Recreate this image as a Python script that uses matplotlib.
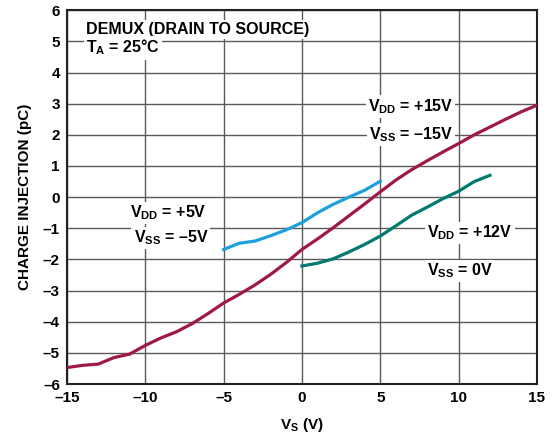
import matplotlib
matplotlib.use("Agg")
import matplotlib.pyplot as plt

plt.rcParams['font.family'] = ['Liberation Sans', 'DejaVu Sans']
plt.rcParams['font.weight'] = 'bold'
plt.rcParams['mathtext.fontset'] = 'custom'
plt.rcParams['mathtext.rm'] = 'Liberation Sans:bold'
plt.rcParams['mathtext.it'] = 'Liberation Sans:bold'
plt.rcParams['mathtext.bf'] = 'Liberation Sans:bold'

# VDD = +15V, VSS = -15V
vs_15 = [-15, -14, -13, -12, -11, -10, -9, -8, -7, -6, -5, -4, -3, -2, -1, 0, 1, 2, 3, 4, 5, 6, 7, 8, 9, 10, 11, 12, 13, 14, 15]
q_15 = [-5.47, -5.4, -5.36, -5.15, -5.04, -4.76, -4.52, -4.32, -4.06, -3.74, -3.4, -3.12, -2.82, -2.48, -2.1, -1.68, -1.34, -0.98, -0.6, -0.22, 0.17, 0.55, 0.88, 1.17, 1.45, 1.72, 2.0, 2.25, 2.5, 2.74, 2.95]

# VDD = +5V, VSS = -5V
vs_5 = [-5, -4, -3, -2, -1, 0, 1, 2, 3, 4, 5]
q_5 = [-1.68, -1.48, -1.41, -1.24, -1.05, -0.82, -0.5, -0.23, 0.0, 0.22, 0.51]

# VDD = +12V, VSS = 0V
vs_12 = [0, 1, 2, 3, 4, 5, 6, 7, 8, 9, 10, 11, 12]
q_12 = [-2.21, -2.12, -1.98, -1.76, -1.52, -1.25, -0.92, -0.58, -0.32, -0.05, 0.19, 0.5, 0.7]

xticks = [-15, -10, -5, 0, 5, 10, 15]
xticklabels = ['\u201315', '\u201310', '\u20135', '0', '5', '10', '15']
yticks = [-6, -5, -4, -3, -2, -1, 0, 1, 2, 3, 4, 5, 6]
yticklabels = ['\u20136', '\u20135', '\u20134', '\u20133', '\u20132', '\u20131', '0', '1', '2', '3', '4', '5', '6']

fig = plt.figure(figsize=(5.53, 4.44), dpi=100)
ax = fig.add_axes([0.121, 0.135, 0.850, 0.842])

ax.plot(vs_15, q_15, color='#A0174A', lw=2.3, zorder=3)
ax.plot(vs_5, q_5, color='#1BA1DD', lw=2.3, zorder=3)
ax.plot(vs_12, q_12, color='#007A6E', lw=2.3, zorder=3)

ax.set_xlim(-15, 15)
ax.set_ylim(-6, 6)
ax.set_xticks(xticks)
ax.set_xticklabels(xticklabels)
ax.set_yticks(yticks)
ax.set_yticklabels(yticklabels)
ax.tick_params(length=0, labelsize=11, pad=5)
ax.grid(True, color='#5a5a5a', lw=1.0)
ax.set_axisbelow(True)
for s in ax.spines.values():
    s.set_linewidth(1.5)
    s.set_color('#222222')

ax.set_xlabel(r'V$_{\mathrm{S}}$ (V)', fontsize=11, fontweight='bold', labelpad=8)
ax.set_ylabel('CHARGE INJECTION (pC)', fontsize=11, fontweight='bold', labelpad=8)

# Beschriftungen mit weißem Hintergrund (verdecken Gitter, nicht die Kurven)
box = dict(facecolor='white', edgecolor='none', pad=1.5)
fs = 11.5
ax.text(-13.8, 5.38, 'DEMUX (DRAIN TO SOURCE)', fontsize=fs, va='center', ha='left', bbox=box, zorder=2.5)
ax.text(-13.8, 4.8, r'T$_{\mathrm{A}}$ = 25°C', fontsize=fs, va='center', ha='left', bbox=box, zorder=2.5)
ax.text(4.2, 2.92, r'V$_{\mathrm{DD}}$ = +15V', fontsize=fs, va='center', ha='left', bbox=box, zorder=2.5)
ax.text(4.3, 2.02, 'V$_{\\mathrm{SS}}$ = \u201315V', fontsize=fs, va='center', ha='left', bbox=box, zorder=2.5)
ax.text(-10.95, -0.51, r'V$_{\mathrm{DD}}$ = +5V', fontsize=fs, va='center', ha='left', bbox=box, zorder=2.5)
ax.text(-10.75, -1.31, 'V$_{\\mathrm{SS}}$ = \u20135V', fontsize=fs, va='center', ha='left', bbox=box, zorder=2.5)
ax.text(8.0, -1.15, r'V$_{\mathrm{DD}}$ = +12V', fontsize=fs, va='center', ha='left', bbox=box, zorder=2.5)
ax.text(8.0, -2.37, r'V$_{\mathrm{SS}}$ = 0V', fontsize=fs, va='center', ha='left', bbox=box, zorder=2.5)

fig.savefig('out.png', dpi=100)
